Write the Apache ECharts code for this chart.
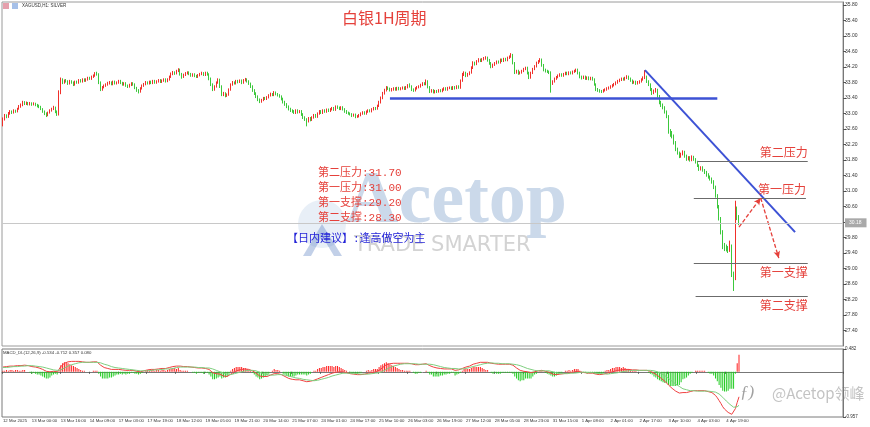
<!DOCTYPE html>
<html><head><meta charset="utf-8">
<script src="https://cdn.jsdelivr.net/npm/echarts/dist/echarts.min.js"></script>
<style>html,body{margin:0;padding:0;background:#fff}#c{width:870px;height:427px}</style>
</head><body><div id="c"></div>
<script>
const closes = [
32.85,32.95,32.92,33.00,33.05,33.02,33.08,33.05,33.12,33.18,
33.22,33.29,33.25,33.28,33.24,33.27,33.23,33.26,33.22,33.20,
33.18,33.12,33.05,33.00,32.95,33.02,33.08,33.12,33.16,33.05,
32.98,33.55,33.88,33.80,33.85,33.83,33.78,33.84,33.80,33.75,
33.82,33.80,33.86,33.83,33.88,33.85,33.88,33.92,33.90,33.95,
33.98,34.03,34.01,33.80,33.62,33.68,33.72,33.75,33.78,33.80,
33.76,33.82,33.78,33.80,33.84,33.79,33.75,33.78,33.72,33.70,
33.74,33.78,33.75,33.66,33.60,33.57,33.65,33.72,33.76,33.80,
33.78,33.82,33.79,33.84,33.80,33.83,33.86,33.82,33.85,33.88,
33.84,33.88,33.95,34.02,34.06,34.04,34.10,34.13,34.02,33.95,
34.00,34.04,34.06,34.02,33.98,34.01,33.97,33.95,33.99,34.02,
34.04,34.00,34.05,34.01,33.90,33.75,33.62,33.70,33.80,33.88,
33.70,33.49,33.52,33.46,33.49,33.62,33.75,33.80,33.78,33.84,
33.82,33.85,33.80,33.86,33.88,33.83,33.78,33.70,33.60,33.52,
33.44,33.36,33.31,33.35,33.40,33.38,33.42,33.47,33.50,33.48,
33.54,33.50,33.47,33.44,33.38,33.30,33.24,33.18,33.12,33.08,
33.06,33.02,33.08,33.04,33.06,32.98,32.90,32.85,32.80,32.88,
32.84,32.90,32.96,32.92,33.00,33.06,33.02,33.08,33.05,33.10,
33.07,33.11,33.14,33.10,33.18,33.15,33.12,33.16,33.11,33.06,
33.02,33.00,32.98,32.95,32.97,32.92,32.93,32.96,33.00,33.03,
33.00,33.05,33.08,33.06,33.11,33.14,33.12,33.20,33.29,33.40,
33.52,33.60,33.67,33.64,33.60,33.62,33.65,33.62,33.66,33.63,
33.65,33.67,33.64,33.68,33.72,33.70,33.62,33.60,33.65,33.68,
33.70,33.74,33.78,33.76,33.83,33.68,33.57,33.60,33.55,33.58,
33.57,33.60,33.58,33.62,33.65,33.62,33.66,33.67,33.64,33.68,
33.66,33.70,33.67,33.85,34.01,34.05,33.98,34.02,34.06,34.18,
34.31,34.28,34.35,34.39,34.36,34.40,34.42,34.44,34.38,34.30,
34.21,34.26,34.30,34.34,34.32,34.39,34.36,34.41,34.38,34.44,
34.47,34.52,34.30,34.06,34.10,34.04,34.06,34.10,34.15,34.18,
34.05,33.93,34.05,34.15,34.22,34.31,34.35,34.39,34.25,34.13,
34.10,34.08,34.06,33.80,33.83,33.90,33.94,33.98,34.01,33.98,
34.02,34.05,34.02,34.06,34.04,34.08,34.10,34.13,34.05,33.95,
33.92,33.95,33.90,33.93,33.89,33.92,33.88,33.75,33.62,33.60,
33.58,33.57,33.60,33.62,33.65,33.67,33.70,33.73,33.76,33.80,
33.84,33.87,33.90,33.88,33.92,33.95,33.90,33.85,33.80,33.82,
33.78,33.80,33.83,33.88,33.92,33.95,33.83,33.75,33.62,33.54,
33.58,33.62,33.45,33.29,33.22,33.16,33.05,32.93,32.52,32.48,
32.42,32.25,32.08,31.98,31.90,31.96,32.00,31.90,31.83,31.86,
31.80,31.88,31.82,31.75,31.66,31.57,31.60,31.54,31.49,31.42,
31.36,31.31,31.24,31.10,30.88,30.60,30.29,29.95,29.59,29.55,
29.52,29.48,29.58,28.85,28.75,30.54,30.32,30.18];
const opens = [
32.78,32.85,32.95,32.92,33.00,33.05,33.02,33.08,33.05,33.12,
33.18,33.22,33.29,33.25,33.28,33.24,33.27,33.23,33.26,33.22,
33.20,33.18,33.12,33.05,33.00,32.95,33.02,33.08,33.12,33.16,
33.05,32.98,33.55,33.88,33.80,33.85,33.83,33.78,33.84,33.80,
33.75,33.82,33.80,33.86,33.83,33.88,33.85,33.88,33.92,33.90,
33.95,33.98,34.03,34.01,33.80,33.62,33.68,33.72,33.75,33.78,
33.80,33.76,33.82,33.78,33.80,33.84,33.79,33.75,33.78,33.72,
33.70,33.74,33.78,33.75,33.66,33.60,33.57,33.65,33.72,33.76,
33.80,33.78,33.82,33.79,33.84,33.80,33.83,33.86,33.82,33.85,
33.88,33.84,33.88,33.95,34.02,34.06,34.04,34.10,34.13,34.02,
33.95,34.00,34.04,34.06,34.02,33.98,34.01,33.97,33.95,33.99,
34.02,34.04,34.00,34.05,34.01,33.90,33.75,33.62,33.70,33.80,
33.88,33.70,33.49,33.52,33.46,33.49,33.62,33.75,33.80,33.78,
33.84,33.82,33.85,33.80,33.86,33.88,33.83,33.78,33.70,33.60,
33.52,33.44,33.36,33.31,33.35,33.40,33.38,33.42,33.47,33.50,
33.48,33.54,33.50,33.47,33.44,33.38,33.30,33.24,33.18,33.12,
33.08,33.06,33.02,33.08,33.04,33.06,32.98,32.90,32.85,32.80,
32.88,32.84,32.90,32.96,32.92,33.00,33.06,33.02,33.08,33.05,
33.10,33.07,33.11,33.14,33.10,33.18,33.15,33.12,33.16,33.11,
33.06,33.02,33.00,32.98,32.95,32.97,32.92,32.93,32.96,33.00,
33.03,33.00,33.05,33.08,33.06,33.11,33.14,33.12,33.20,33.29,
33.40,33.52,33.60,33.67,33.64,33.60,33.62,33.65,33.62,33.66,
33.63,33.65,33.67,33.64,33.68,33.72,33.70,33.62,33.60,33.65,
33.68,33.70,33.74,33.78,33.76,33.83,33.68,33.57,33.60,33.55,
33.58,33.57,33.60,33.58,33.62,33.65,33.62,33.66,33.67,33.64,
33.68,33.66,33.70,33.67,33.85,34.01,34.05,33.98,34.02,34.06,
34.18,34.31,34.28,34.35,34.39,34.36,34.40,34.42,34.44,34.38,
34.30,34.21,34.26,34.30,34.34,34.32,34.39,34.36,34.41,34.38,
34.44,34.47,34.52,34.30,34.06,34.10,34.04,34.06,34.10,34.15,
34.18,34.05,33.93,34.05,34.15,34.22,34.31,34.35,34.39,34.25,
34.13,34.10,34.08,34.06,33.80,33.83,33.90,33.94,33.98,34.01,
33.98,34.02,34.05,34.02,34.06,34.04,34.08,34.10,34.13,34.05,
33.95,33.92,33.95,33.90,33.93,33.89,33.92,33.88,33.75,33.62,
33.60,33.58,33.57,33.60,33.62,33.65,33.67,33.70,33.73,33.76,
33.80,33.84,33.87,33.90,33.88,33.92,33.95,33.90,33.85,33.80,
33.82,33.78,33.80,33.83,33.88,33.92,33.95,33.83,33.75,33.62,
33.54,33.58,33.62,33.45,33.29,33.22,33.16,33.05,32.93,32.52,
32.48,32.42,32.25,32.08,31.98,31.90,31.96,32.00,31.90,31.83,
31.86,31.80,31.88,31.82,31.75,31.66,31.57,31.60,31.54,31.49,
31.42,31.36,31.31,31.24,31.10,30.88,30.60,30.29,29.95,29.59,
29.55,29.52,29.48,29.58,28.85,28.75,30.54,30.32];
const highs = [
32.90,32.99,32.98,33.04,33.09,33.08,33.11,33.10,33.15,33.22,
33.26,33.33,33.32,33.31,33.30,33.30,33.29,33.29,33.28,33.25,
33.23,33.20,33.14,33.08,33.03,33.05,33.11,33.15,33.20,33.18,
33.08,33.60,33.93,33.91,33.88,33.89,33.86,33.87,33.86,33.83,
33.85,33.85,33.89,33.89,33.91,33.91,33.91,33.95,33.95,33.98,
34.01,34.07,34.08,34.04,33.83,33.71,33.75,33.78,33.82,33.84,
33.83,33.85,33.85,33.83,33.87,33.87,33.82,33.81,33.81,33.75,
33.77,33.81,33.81,33.78,33.69,33.63,33.68,33.75,33.79,33.84,
33.83,33.85,33.85,33.87,33.87,33.86,33.89,33.89,33.88,33.91,
33.91,33.91,33.98,34.06,34.10,34.09,34.13,34.17,34.16,34.05,
34.03,34.07,34.09,34.09,34.05,34.04,34.04,34.00,34.02,34.05,
34.08,34.07,34.08,34.08,34.04,33.93,33.78,33.73,33.83,33.91,
33.90,33.73,33.56,33.55,33.52,33.65,33.78,33.84,33.83,33.87,
33.87,33.88,33.88,33.89,33.92,33.91,33.86,33.80,33.73,33.63,
33.55,33.47,33.39,33.38,33.43,33.43,33.45,33.50,33.54,33.53,
33.58,33.57,33.53,33.50,33.47,33.41,33.33,33.27,33.21,33.15,
33.11,33.09,33.11,33.11,33.09,33.09,33.01,32.93,32.88,32.91,
32.91,32.93,32.99,32.99,33.03,33.09,33.09,33.11,33.11,33.13,
33.13,33.14,33.17,33.17,33.21,33.21,33.18,33.19,33.19,33.14,
33.09,33.05,33.03,33.01,33.00,33.00,32.96,32.99,33.03,33.06,
33.06,33.08,33.11,33.11,33.14,33.17,33.17,33.23,33.33,33.44,
33.56,33.64,33.71,33.70,33.67,33.66,33.68,33.68,33.69,33.69,
33.68,33.70,33.70,33.71,33.76,33.78,33.73,33.65,33.68,33.71,
33.73,33.77,33.81,33.81,33.88,33.86,33.71,33.63,33.63,33.61,
33.61,33.63,33.63,33.65,33.68,33.68,33.69,33.70,33.70,33.71,
33.71,33.73,33.73,33.88,34.05,34.09,34.08,34.05,34.09,34.22,
34.35,34.34,34.38,34.43,34.42,34.43,34.46,34.48,34.47,34.41,
34.33,34.29,34.33,34.37,34.37,34.42,34.42,34.44,34.44,34.47,
34.50,34.56,34.54,34.33,34.13,34.13,34.09,34.13,34.18,34.21,
34.21,34.08,34.08,34.18,34.25,34.34,34.38,34.43,34.42,34.28,
34.16,34.13,34.11,34.09,33.86,33.93,33.97,34.01,34.04,34.04,
34.05,34.08,34.08,34.09,34.09,34.11,34.13,34.16,34.16,34.08,
33.98,33.98,33.98,33.96,33.96,33.95,33.95,33.91,33.78,33.66,
33.63,33.61,33.63,33.65,33.68,33.70,33.73,33.76,33.79,33.83,
33.87,33.90,33.93,33.93,33.95,33.99,33.98,33.93,33.88,33.85,
33.85,33.84,33.86,33.91,33.96,34.12,33.98,33.86,33.78,33.66,
33.62,33.66,33.64,33.48,33.33,33.26,33.19,33.08,32.96,32.60,
32.55,32.46,32.29,32.12,32.02,31.99,32.05,32.04,31.94,31.90,
31.90,31.92,31.91,31.85,31.78,31.69,31.64,31.64,31.57,31.52,
31.46,31.40,31.35,31.28,31.14,30.92,30.64,30.33,29.99,29.66,
29.62,29.58,29.72,29.62,28.92,30.75,30.60,30.38];
const lows = [
32.67,32.82,32.88,32.89,32.97,32.99,33.00,33.02,33.03,33.10,
33.15,33.19,33.22,33.22,33.21,33.21,33.20,33.21,33.19,33.16,
33.14,33.09,33.02,32.96,32.91,32.93,33.00,33.05,33.09,33.01,
32.94,32.95,33.50,33.76,33.77,33.80,33.74,33.75,33.77,33.71,
33.72,33.77,33.77,33.80,33.80,33.82,33.82,33.85,33.87,33.87,
33.92,33.95,33.98,33.76,33.58,33.59,33.65,33.69,33.72,33.75,
33.73,33.73,33.75,33.75,33.77,33.76,33.72,33.72,33.69,33.66,
33.67,33.71,33.72,33.63,33.56,33.52,33.54,33.62,33.69,33.73,
33.75,33.75,33.76,33.76,33.77,33.77,33.80,33.79,33.79,33.82,
33.80,33.81,33.85,33.92,33.99,34.00,34.01,34.07,33.98,33.90,
33.92,33.97,34.01,33.99,33.95,33.95,33.94,33.92,33.92,33.96,
33.99,33.97,33.97,33.98,33.86,33.71,33.58,33.59,33.67,33.77,
33.66,33.45,33.45,33.42,33.43,33.46,33.59,33.72,33.75,33.75,
33.78,33.79,33.76,33.77,33.83,33.80,33.74,33.66,33.56,33.48,
33.40,33.32,33.27,33.28,33.32,33.35,33.35,33.39,33.44,33.45,
33.45,33.47,33.44,33.41,33.34,33.26,33.20,33.14,33.08,33.04,
33.02,32.99,32.99,33.00,33.01,32.94,32.86,32.81,32.67,32.77,
32.80,32.81,32.87,32.89,32.89,32.97,32.99,32.99,33.02,33.02,
33.04,33.04,33.08,33.07,33.07,33.12,33.09,33.09,33.08,33.02,
32.99,32.97,32.95,32.91,32.92,32.88,32.89,32.90,32.93,32.97,
32.97,32.97,33.02,33.03,33.03,33.08,33.09,33.10,33.17,33.26,
33.37,33.49,33.57,33.61,33.57,33.57,33.59,33.59,33.59,33.60,
33.60,33.62,33.61,33.61,33.65,33.67,33.58,33.56,33.57,33.62,
33.65,33.67,33.71,33.73,33.73,33.65,33.53,33.54,33.52,33.52,
33.53,33.54,33.55,33.55,33.59,33.59,33.59,33.63,33.61,33.61,
33.62,33.63,33.64,33.64,33.82,33.97,33.94,33.95,33.99,34.03,
34.15,34.24,34.25,34.32,34.33,34.33,34.37,34.39,34.34,34.26,
34.17,34.18,34.23,34.27,34.29,34.29,34.33,34.33,34.35,34.35,
34.41,34.44,34.27,34.02,34.03,34.00,34.01,34.03,34.07,34.12,
34.01,33.89,33.90,34.02,34.12,34.19,34.28,34.32,34.21,34.09,
34.06,34.05,34.02,33.54,33.74,33.80,33.87,33.91,33.95,33.95,
33.95,33.99,33.99,33.99,34.01,34.01,34.05,34.07,34.01,33.91,
33.88,33.89,33.87,33.87,33.86,33.86,33.85,33.72,33.58,33.56,
33.54,33.53,33.54,33.57,33.59,33.62,33.64,33.67,33.70,33.73,
33.77,33.81,33.84,33.85,33.85,33.89,33.87,33.82,33.76,33.77,
33.74,33.75,33.77,33.80,33.85,33.89,33.79,33.71,33.58,33.48,
33.50,33.54,33.41,33.24,33.17,33.11,33.00,32.88,32.48,32.40,
32.36,32.20,32.03,31.94,31.85,31.86,31.92,31.86,31.78,31.79,
31.76,31.77,31.78,31.71,31.62,31.52,31.53,31.50,31.44,31.37,
31.32,31.27,31.19,31.05,30.83,30.55,30.24,29.88,29.50,29.45,
29.44,29.40,29.43,28.78,28.42,28.70,30.25,30.12];
const dif = [
0.10,0.10,0.11,0.11,0.12,0.12,0.12,0.13,0.13,0.13,
0.13,0.14,0.14,0.13,0.13,0.12,0.11,0.11,0.10,0.09,
0.08,0.07,0.05,0.03,0.01,0.00,0.00,0.01,0.01,0.01,
0.00,0.05,0.11,0.15,0.18,0.20,0.21,0.22,0.22,0.22,
0.22,0.22,0.22,0.21,0.21,0.21,0.20,0.20,0.20,0.20,
0.21,0.21,0.21,0.18,0.14,0.11,0.09,0.08,0.07,0.06,
0.05,0.05,0.05,0.05,0.05,0.05,0.04,0.04,0.03,0.03,
0.03,0.03,0.03,0.02,0.01,0.00,0.00,0.01,0.02,0.03,
0.04,0.04,0.05,0.05,0.05,0.06,0.06,0.06,0.07,0.07,
0.07,0.08,0.09,0.10,0.11,0.12,0.12,0.13,0.12,0.11,
0.11,0.11,0.11,0.10,0.10,0.09,0.09,0.08,0.08,0.08,
0.08,0.07,0.07,0.07,0.05,0.02,-0.02,-0.04,-0.04,-0.04,
-0.05,-0.08,-0.09,-0.10,-0.10,-0.08,-0.05,-0.02,0.00,0.02,
0.03,0.04,0.05,0.05,0.06,0.06,0.05,0.04,0.02,0.00,
-0.03,-0.06,-0.09,-0.10,-0.10,-0.10,-0.10,-0.09,-0.07,-0.06,
-0.04,-0.04,-0.04,-0.05,-0.06,-0.08,-0.10,-0.12,-0.14,-0.15,
-0.16,-0.17,-0.17,-0.17,-0.17,-0.18,-0.19,-0.20,-0.21,-0.21,
-0.20,-0.19,-0.18,-0.17,-0.15,-0.13,-0.12,-0.10,-0.09,-0.07,
-0.06,-0.05,-0.03,-0.03,-0.01,0.00,0.00,0.00,0.00,-0.01,
-0.02,-0.03,-0.04,-0.05,-0.05,-0.06,-0.06,-0.06,-0.06,-0.05,
-0.05,-0.04,-0.03,-0.03,-0.02,-0.01,0.00,0.01,0.03,0.06,
0.09,0.12,0.15,0.16,0.17,0.17,0.18,0.18,0.18,0.18,
0.18,0.18,0.18,0.18,0.18,0.18,0.17,0.16,0.15,0.15,
0.15,0.15,0.16,0.16,0.17,0.15,0.13,0.12,0.10,0.09,
0.08,0.07,0.07,0.06,0.06,0.06,0.06,0.06,0.06,0.06,
0.03,0.03,0.04,0.05,0.07,0.09,0.10,0.11,0.12,0.14,
0.16,0.17,0.18,0.19,0.20,0.20,0.20,0.20,0.20,0.19,
0.18,0.17,0.17,0.16,0.16,0.16,0.16,0.16,0.16,0.16,
0.16,0.16,0.14,0.11,0.08,0.05,0.03,0.02,0.01,0.01,
0.00,-0.01,-0.02,-0.01,0.00,0.01,0.02,0.03,0.03,0.02,
0.01,0.00,-0.01,-0.03,-0.05,-0.06,-0.06,-0.06,-0.05,-0.05,
-0.04,-0.03,-0.03,-0.02,-0.02,-0.01,0.00,0.01,0.01,0.00,
-0.01,-0.02,-0.02,-0.03,-0.03,-0.03,-0.03,-0.04,-0.05,-0.06,
-0.06,-0.06,-0.05,-0.04,-0.03,-0.02,-0.01,0.00,0.01,0.02,
0.03,0.04,0.04,0.05,0.05,0.05,0.05,0.05,0.04,0.04,
0.04,0.03,0.03,0.03,0.03,0.03,0.03,0.02,0.01,-0.01,
-0.03,-0.05,-0.08,-0.11,-0.14,-0.17,-0.20,-0.23,-0.28,-0.32,
-0.35,-0.38,-0.41,-0.43,-0.45,-0.45,-0.44,-0.44,-0.44,-0.43,
-0.42,-0.41,-0.40,-0.40,-0.40,-0.40,-0.40,-0.40,-0.40,-0.41,
-0.42,-0.43,-0.44,-0.46,-0.50,-0.55,-0.61,-0.67,-0.74,-0.79,
-0.83,-0.86,-0.87,-0.90,-0.93,-0.78,-0.65,-0.53];
const dea = [
0.09,0.09,0.09,0.10,0.10,0.10,0.11,0.11,0.11,0.12,
0.12,0.12,0.12,0.13,0.13,0.13,0.13,0.12,0.12,0.12,
0.11,0.11,0.10,0.09,0.08,0.07,0.06,0.05,0.04,0.03,
0.03,0.03,0.04,0.06,0.08,0.10,0.12,0.14,0.15,0.16,
0.17,0.18,0.19,0.19,0.20,0.20,0.20,0.20,0.20,0.20,
0.20,0.20,0.20,0.20,0.19,0.18,0.16,0.15,0.14,0.12,
0.11,0.10,0.09,0.08,0.08,0.07,0.07,0.06,0.06,0.05,
0.05,0.04,0.04,0.04,0.03,0.03,0.02,0.02,0.02,0.02,
0.02,0.03,0.03,0.03,0.04,0.04,0.04,0.05,0.05,0.05,
0.06,0.06,0.06,0.07,0.07,0.08,0.09,0.09,0.10,0.10,
0.10,0.10,0.10,0.10,0.10,0.10,0.10,0.10,0.09,0.09,
0.09,0.09,0.08,0.08,0.08,0.07,0.06,0.04,0.03,0.02,
0.00,-0.01,-0.03,-0.04,-0.05,-0.06,-0.06,-0.05,-0.04,-0.03,
-0.02,-0.01,0.00,0.01,0.02,0.03,0.03,0.03,0.03,0.03,
0.02,0.00,-0.01,-0.03,-0.04,-0.05,-0.06,-0.07,-0.07,-0.07,
-0.07,-0.06,-0.06,-0.06,-0.06,-0.06,-0.07,-0.08,-0.09,-0.10,
-0.11,-0.12,-0.13,-0.14,-0.14,-0.15,-0.16,-0.17,-0.17,-0.18,
-0.18,-0.19,-0.19,-0.18,-0.18,-0.17,-0.16,-0.15,-0.14,-0.13,
-0.12,-0.11,-0.09,-0.08,-0.07,-0.06,-0.05,-0.04,-0.03,-0.03,
-0.03,-0.03,-0.03,-0.03,-0.04,-0.04,-0.04,-0.05,-0.05,-0.05,
-0.05,-0.05,-0.05,-0.04,-0.04,-0.04,-0.03,-0.02,-0.02,-0.01,
0.01,0.03,0.05,0.07,0.09,0.10,0.12,0.13,0.14,0.15,
0.16,0.16,0.17,0.17,0.17,0.17,0.17,0.17,0.17,0.17,
0.16,0.16,0.16,0.16,0.16,0.16,0.16,0.15,0.15,0.14,
0.13,0.12,0.11,0.10,0.09,0.09,0.08,0.08,0.07,0.07,
0.07,0.06,0.06,0.06,0.06,0.06,0.07,0.08,0.09,0.10,
0.11,0.12,0.13,0.14,0.15,0.16,0.17,0.18,0.18,0.19,
0.19,0.19,0.18,0.18,0.18,0.18,0.17,0.17,0.17,0.17,
0.17,0.17,0.16,0.16,0.15,0.14,0.13,0.11,0.10,0.08,
0.07,0.06,0.05,0.04,0.03,0.03,0.02,0.02,0.02,0.02,
0.02,0.02,0.02,0.01,0.00,-0.01,-0.02,-0.03,-0.04,-0.04,
-0.04,-0.04,-0.04,-0.04,-0.03,-0.03,-0.03,-0.02,-0.02,-0.01,
-0.01,-0.01,-0.01,-0.01,-0.02,-0.02,-0.02,-0.02,-0.03,-0.03,
-0.04,-0.04,-0.04,-0.05,-0.05,-0.04,-0.04,-0.04,-0.03,-0.03,
-0.02,-0.01,0.00,0.00,0.01,0.02,0.02,0.03,0.03,0.03,
0.03,0.03,0.03,0.03,0.03,0.03,0.03,0.03,0.03,0.02,
0.02,0.01,0.00,-0.02,-0.04,-0.06,-0.08,-0.11,-0.14,-0.17,
-0.20,-0.23,-0.26,-0.29,-0.31,-0.34,-0.36,-0.37,-0.38,-0.39,
-0.40,-0.40,-0.40,-0.41,-0.41,-0.41,-0.41,-0.41,-0.41,-0.41,
-0.41,-0.41,-0.42,-0.42,-0.43,-0.45,-0.47,-0.50,-0.54,-0.58,
-0.62,-0.66,-0.69,-0.72,-0.75,-0.76,-0.74,-0.71];
const hist = [
0.02,0.02,0.04,0.02,0.04,0.04,0.02,0.04,0.04,0.02,
0.02,0.04,0.04,0.00,0.00,-0.02,-0.04,-0.02,-0.04,-0.06,
-0.06,-0.08,-0.10,-0.12,-0.14,-0.14,-0.12,-0.08,-0.06,-0.04,
-0.06,0.04,0.14,0.18,0.20,0.20,0.18,0.16,0.14,0.12,
0.10,0.08,0.06,0.04,0.02,0.02,0.00,0.00,0.00,0.00,
0.02,0.02,0.02,-0.04,-0.10,-0.14,-0.14,-0.14,-0.14,-0.12,
-0.12,-0.10,-0.08,-0.06,-0.06,-0.04,-0.06,-0.04,-0.06,-0.04,
-0.04,-0.02,-0.02,-0.04,-0.04,-0.06,-0.04,-0.02,0.00,0.02,
0.04,0.02,0.04,0.04,0.02,0.04,0.04,0.02,0.04,0.04,
0.02,0.04,0.06,0.06,0.08,0.08,0.06,0.08,0.04,0.02,
0.02,0.02,0.02,0.00,0.00,-0.02,-0.02,-0.04,-0.02,-0.02,
-0.02,-0.04,-0.02,-0.02,-0.06,-0.10,-0.16,-0.16,-0.14,-0.12,
-0.10,-0.14,-0.12,-0.12,-0.10,-0.04,0.02,0.06,0.08,0.10,
0.10,0.10,0.10,0.08,0.08,0.06,0.04,0.02,-0.02,-0.06,
-0.10,-0.12,-0.16,-0.14,-0.12,-0.10,-0.08,-0.04,0.00,0.02,
0.06,0.04,0.04,0.02,0.00,-0.04,-0.06,-0.08,-0.10,-0.10,
-0.10,-0.10,-0.08,-0.06,-0.06,-0.06,-0.06,-0.06,-0.08,-0.06,
-0.04,0.00,0.02,0.02,0.06,0.08,0.08,0.10,0.10,0.12,
0.12,0.12,0.12,0.10,0.12,0.12,0.10,0.08,0.06,0.04,
0.02,0.00,-0.02,-0.04,-0.02,-0.04,-0.04,-0.02,-0.02,0.00,
0.00,0.02,0.04,0.02,0.04,0.06,0.06,0.06,0.10,0.14,
0.16,0.18,0.20,0.18,0.16,0.14,0.12,0.10,0.08,0.06,
0.04,0.04,0.02,0.02,0.02,0.02,0.00,-0.02,-0.04,-0.04,
-0.02,-0.02,0.00,0.00,0.02,-0.02,-0.06,-0.06,-0.10,-0.10,
-0.10,-0.10,-0.08,-0.08,-0.06,-0.06,-0.04,-0.04,-0.02,-0.02,
-0.08,-0.06,-0.04,-0.02,0.02,0.06,0.06,0.06,0.06,0.08,
0.10,0.10,0.10,0.10,0.10,0.08,0.06,0.04,0.04,0.00,
-0.02,-0.04,-0.02,-0.04,-0.04,-0.04,-0.02,-0.02,-0.02,-0.02,
-0.02,-0.02,-0.04,-0.10,-0.14,-0.18,-0.20,-0.18,-0.18,-0.14,
-0.14,-0.14,-0.14,-0.10,-0.06,-0.04,0.00,0.02,0.02,0.00,
-0.02,-0.04,-0.06,-0.08,-0.10,-0.10,-0.08,-0.06,-0.02,-0.02,
0.00,0.02,0.02,0.04,0.02,0.04,0.06,0.06,0.06,0.02,
0.00,-0.02,-0.02,-0.04,-0.02,-0.02,-0.02,-0.04,-0.04,-0.06,
-0.04,-0.04,-0.02,0.02,0.04,0.04,0.06,0.08,0.08,0.10,
0.10,0.10,0.08,0.10,0.08,0.06,0.06,0.04,0.02,0.02,
0.02,0.00,0.00,0.00,0.00,0.00,0.00,-0.02,-0.04,-0.06,
-0.10,-0.12,-0.16,-0.18,-0.20,-0.22,-0.24,-0.24,-0.28,-0.30,
-0.30,-0.30,-0.30,-0.28,-0.28,-0.22,-0.16,-0.14,-0.12,-0.08,
-0.04,-0.02,0.00,0.02,0.02,0.02,0.02,0.02,0.02,0.00,
-0.02,-0.04,-0.04,-0.08,-0.14,-0.20,-0.28,-0.34,-0.40,-0.42,
-0.42,-0.40,-0.36,-0.36,-0.36,-0.04,0.18,0.36];

const tickLabels = ["12 Mar 2025","13 Mar 00:00","13 Mar 16:00","14 Mar 09:00","17 Mar 03:00","17 Mar 19:00","18 Mar 12:00","19 Mar 05:00","19 Mar 21:00","20 Mar 14:00","21 Mar 07:00","24 Mar 01:00","24 Mar 17:00","25 Mar 10:00","26 Mar 03:00","26 Mar 19:00","27 Mar 12:00","28 Mar 05:00","28 Mar 23:00","31 Mar 15:00","1 Apr 08:00","2 Apr 01:00","2 Apr 17:00","3 Apr 10:00","4 Apr 03:00","4 Apr 19:00"];
const barsPerLabel = 16;
const slotCount = 465;
const priceMin = 27.0, priceMax = 35.88, priceStep = 0.4;
const macdMin = -0.957, macdMax = 0.482;
const macdLegend = "MACD_DL(12,26,9) -0.534 -0.712 0.357 0.080";

const levelNames = ["第二压力","第一压力","第一支撑","第二支撑"];
const levelDrawn = [31.77, 30.82, 29.14, 28.29];
const levelFrom = [384, 382, 382, 383];
const levelTo = [445, 444, 445, 445];
const adviceLines = ["第二压力:31.70","第一压力:31.00","第一支撑:29.20","第二支撑:28.30"];
const adviceText = "【日内建议】:逢高做空为主";
const necklineIdx = [214, 395], necklinePrice = 33.40;
const trendIdx = [355, 438], trendPrice = [34.12, 29.94];
const pathIdx = [407, 419, 429], pathPrice = [30.07, 30.82, 29.27];

const RED = '#f0302a', GREEN = '#3cc83c';
const cats = Array.from({length: slotCount}, (_, i) => String(i));
const candles = closes.map((c, i) => [opens[i], c, lows[i], highs[i]]);
const lastPrice = closes[closes.length - 1];
const cjk = '"Noto Sans CJK SC", sans-serif';
const small = '"Liberation Sans", sans-serif';
const showTick = (i) => i % barsPerLabel === 0 && i / barsPerLabel < tickLabels.length;

const levelLineData = levelNames.map((n, i) => [
  {coord: [levelFrom[i], levelDrawn[i]], name: n,
   lineStyle: {color: '#6b6b6b', width: 1, type: 'solid'},
   label: {show: true, formatter: n, position: i < 2 ? 'insideEndTop' : 'insideEndBottom',
           color: '#e5413b', fontSize: 12, fontFamily: cjk, distance: [0, 3]}},
  {coord: [levelTo[i], levelDrawn[i]]}
]);

const markData = [
  [{coord: [necklineIdx[0], necklinePrice], lineStyle: {color: '#3d52d5', width: 2.5, type: 'solid'}},
   {coord: [necklineIdx[1], necklinePrice]}],
  [{coord: [trendIdx[0], trendPrice[0]], lineStyle: {color: '#3d52d5', width: 2, type: 'solid'}},
   {coord: [trendIdx[1], trendPrice[1]]}],
  ...levelLineData,
  [{coord: [pathIdx[0], pathPrice[0]], symbol: 'none', lineStyle: {color: '#e5413b', width: 1.3, type: [4, 2]}},
   {coord: [pathIdx[1], pathPrice[1]], symbol: 'arrow', symbolSize: [5, 7]}],
  [{coord: [pathIdx[1], pathPrice[1]], symbol: 'none', lineStyle: {color: '#e5413b', width: 1.3, type: [4, 2]}},
   {coord: [pathIdx[2], pathPrice[2]], symbol: 'arrow', symbolSize: [5, 7]}],
  {yAxis: lastPrice, lineStyle: {color: '#c8c8c8', width: 1, type: 'solid'},
   label: {show: true, position: 'end', formatter: lastPrice.toFixed(2), backgroundColor: '#a9a9a9',
           color: '#fff', fontSize: 5, fontFamily: small, padding: [2, 5, 2, 4], distance: 2}}
];

const chart = echarts.init(document.getElementById('c'), null, {renderer: 'canvas'});
chart.setOption({
  animation: false,
  backgroundColor: '#fff',
  grid: [
    {left: 2, top: 2, width: 841, height: 344, show: true, borderColor: '#9a9a9a', borderWidth: 1, outerBoundsMode: 'none'},
    {left: 2, top: 349, width: 841, height: 68, show: true, borderColor: '#7a7a7a', borderWidth: 1, outerBoundsMode: 'none'}
  ],
  xAxis: [
    {type: 'category', gridIndex: 0, data: cats, boundaryGap: true, show: false},
    {type: 'category', gridIndex: 1, data: cats, boundaryGap: true,
     axisLine: {show: true, lineStyle: {color: '#777'}},
     axisTick: {show: true, length: 2, interval: showTick, lineStyle: {color: '#555'}},
     axisLabel: {show: true, interval: showTick, showMinLabel: true, hideOverlap: false,
       formatter: (v) => tickLabels[Math.round(Number(v) / barsPerLabel)] || '',
       fontSize: 4.3, color: '#333', fontFamily: small, align: 'left', margin: 2}}
  ],
  yAxis: [
    {type: 'value', gridIndex: 0, position: 'right', min: priceMin, max: priceMax, interval: priceStep,
     splitLine: {show: false},
     axisLine: {show: true, lineStyle: {color: '#777'}},
     axisTick: {show: true, length: 3, lineStyle: {color: '#555'}},
     axisLabel: {show: true, showMinLabel: false, showMaxLabel: false, fontSize: 5, color: '#333', fontFamily: small,
       margin: 2, formatter: (v) => v.toFixed(2)}},
    {type: 'value', gridIndex: 1, position: 'right', min: macdMin, max: macdMax, interval: macdMax - macdMin,
     splitLine: {show: false},
     axisLine: {show: true, lineStyle: {color: '#777'}},
     axisTick: {show: true, length: 3, lineStyle: {color: '#555'}},
     axisLabel: {show: true, fontSize: 4.5, color: '#333', fontFamily: small, margin: 2,
       formatter: (v) => v.toFixed(3)}}
  ],
  series: [
    {type: 'candlestick', xAxisIndex: 0, yAxisIndex: 0, data: candles, barWidth: 1,
     itemStyle: {color: RED, color0: GREEN, borderColor: RED, borderColor0: GREEN, borderWidth: 1},
     markLine: {silent: true, symbol: ['none', 'none'], animation: false, label: {show: false}, data: markData}},
    {type: 'bar', xAxisIndex: 1, yAxisIndex: 1, barWidth: 1,
     data: hist.map(v => ({value: v, itemStyle: {color: v >= 0 ? '#ff2020' : '#22cc22'}}))},
    {type: 'line', xAxisIndex: 1, yAxisIndex: 1, data: dif, showSymbol: false, lineStyle: {color: '#f04040', width: 1}},
    {type: 'line', xAxisIndex: 1, yAxisIndex: 1, data: dea, showSymbol: false, lineStyle: {color: '#7fcf7f', width: 1}}
  ],
  graphic: [
    {type: 'circle', z: 0, shape: {cx: 322, cy: 224, r: 24}, style: {fill: 'rgba(190,210,232,0.35)'}},
    {type: 'text', x: 345, y: 166, z: 0, style: {text: 'Acetop', font: 'bold 74px "Liberation Serif", serif', fill: '#cbd9ea', verticalAlign: 'top'}},
    {type: 'text', x: 354, y: 246, z: 0, style: {text: 'TRADE SMARTER', font: '21px "DejaVu Sans", sans-serif', fill: '#d3d3d3', verticalAlign: 'middle'}},
    {type: 'polygon', z: 0, shape: {points: [[303,256],[322,224],[342,256],[334,256],[322,236],[311,256]]}, style: {fill: 'rgba(80,120,190,0.35)'}},
    {type: 'text', x: 772, y: 393, z: 0, style: {text: '@Acetop领峰', font: '15px ' + cjk, fill: 'rgba(170,170,170,0.7)', verticalAlign: 'middle'}},
    {type: 'text', x: 740, y: 393, z: 0, style: {text: 'ƒ)', font: 'italic 17px "Liberation Serif", serif', fill: 'rgba(120,120,120,0.7)', verticalAlign: 'middle'}},
    {type: 'rect', shape: {x: 3, y: 3, width: 6, height: 6}, style: {fill: '#e6a0ad'}},
    {type: 'rect', shape: {x: 12, y: 3, width: 6, height: 6}, style: {fill: '#a6c0e8'}},
    {type: 'text', x: 22, y: 6, style: {text: 'XAGUSD,H1: SILVER', font: '4.5px ' + small, fill: '#333', verticalAlign: 'middle'}},
    {type: 'text', x: 342, y: 18, style: {text: '白银1H周期', font: '16px ' + cjk, fill: '#e5413b', verticalAlign: 'middle'}},
    {type: 'text', x: 3, y: 353, style: {text: macdLegend, font: '4.3px ' + small, fill: '#333', verticalAlign: 'middle'}},
    ...adviceLines.map((t, i) => ({type: 'text', x: 318, y: 173 + i * 15,
      style: {text: t, font: '11px "Liberation Mono", ' + cjk, fill: '#e5413b', verticalAlign: 'middle'}})),
    {type: 'text', x: 287, y: 239, style: {text: adviceText, font: '11px "Liberation Mono", ' + cjk, fill: '#2424d8', verticalAlign: 'middle'}}
  ]
});
</script></body></html>
